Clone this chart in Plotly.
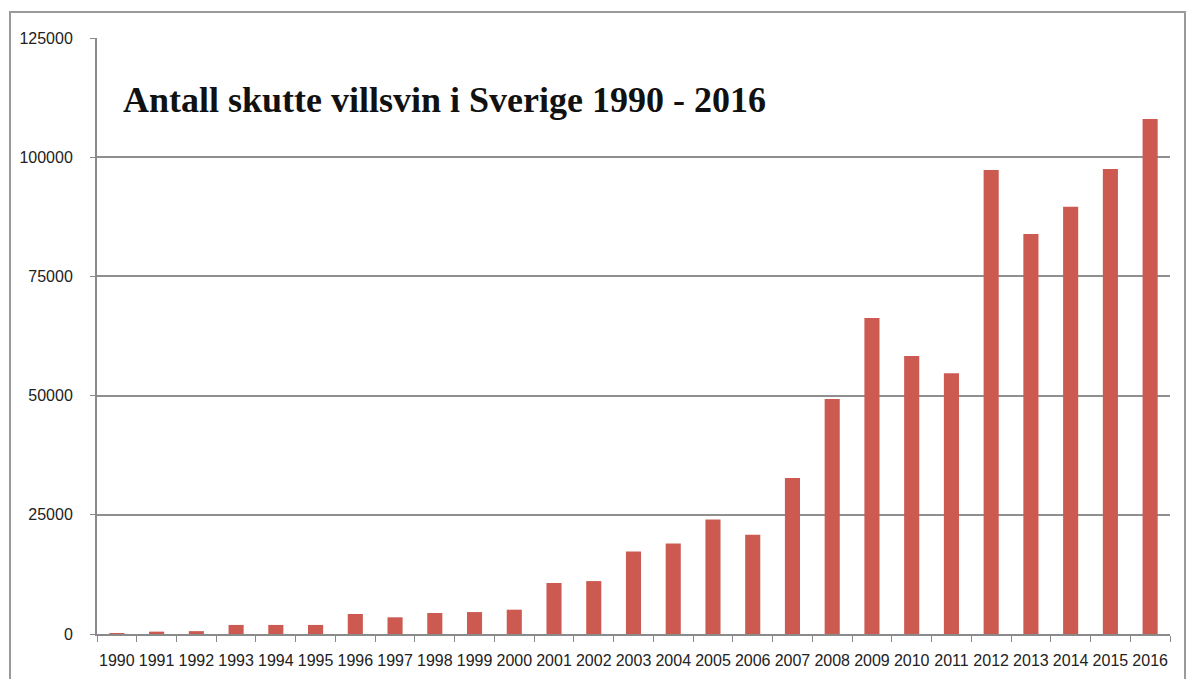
import plotly.graph_objects as go

years = [str(y) for y in range(1990, 2017)]
shot = [200, 500, 600, 1900, 1900, 1900, 4200, 3500, 4400, 4600, 5100,
        10700, 11100, 17300, 19000, 24000, 20800, 32700, 49300, 66300,
        58300, 54700, 97300, 83900, 89600, 97500, 108000]
y_ticks = [0, 25000, 50000, 75000, 100000, 125000]
title_text = "Antall skutte villsvin i Sverige 1990 - 2016"

L, R, T, B = 97, 17, 38, 45
W, H = 1187, 679
pw, ph = W - L - R, H - T - B

fig = go.Figure(go.Bar(x=years, y=shot, marker_color="#CD5A50",
                       marker_line_width=0, width=0.38))

fig.update_layout(
    width=W, height=H, margin=dict(l=L, r=R, t=T, b=B, autoexpand=False),
    paper_bgcolor="white", plot_bgcolor="white", showlegend=False,
    font=dict(family="Liberation Sans", color="#222222", size=16),
    annotations=[dict(text="<b>" + title_text + "</b>", xref="paper", yref="paper",
                      x=(121 - L) / pw, y=(634 - 100) / ph, xanchor="left", yanchor="middle",
                      showarrow=False,
                      font=dict(family="Liberation Serif", size=36, color="#111111"))],
    shapes=[dict(type="rect", xref="paper", yref="paper",
                 x0=(10 - L) / pw, x1=(1185 - L) / pw,
                 y0=(634 - 690) / ph, y1=(634 - 12) / ph,
                 line=dict(color="#9a9a9a", width=2), layer="below")],
)
fig.update_xaxes(type="category", showline=True, linecolor="#8a8a8a", linewidth=2,
                 ticks="outside", tickson="boundaries", ticklen=6, tickcolor="#8a8a8a",
                 showgrid=False, tickfont=dict(size=16, color="#222222"),
                 tickangle=0, automargin=False, ticklabelstandoff=11)
fig.update_yaxes(range=[0, 125000], tickvals=y_ticks, tickformat="d",
                 showgrid=True, gridcolor="#8f8f8f", gridwidth=1.5,
                 showline=True, linecolor="#8a8a8a", linewidth=2,
                 ticks="outside", ticklen=5, tickcolor="#8a8a8a",
                 zeroline=False, tickfont=dict(size=16, color="#222222"),
                 automargin=False, ticklabelstandoff=14)

fig.write_html("out.html")
